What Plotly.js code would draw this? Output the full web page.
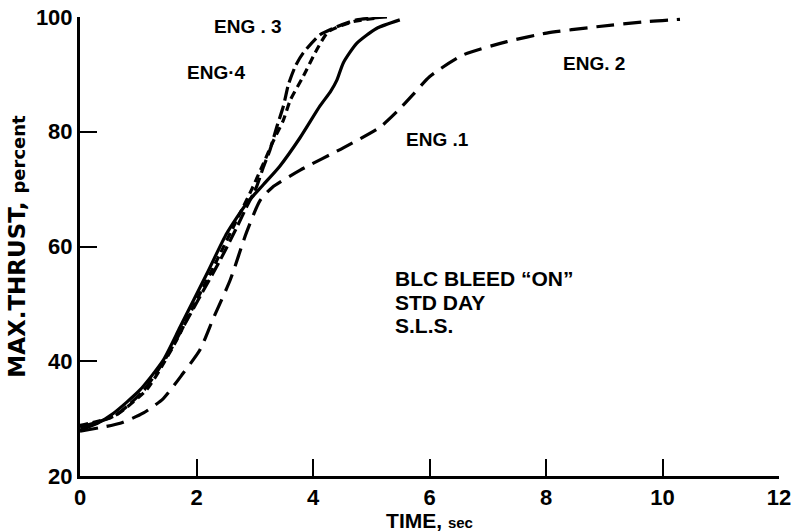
<!DOCTYPE html>
<html>
<head>
<meta charset="utf-8">
<script src="https://cdn.plot.ly/plotly-3.0.1.min.js"></script>
<style>html,body{margin:0;padding:0;background:#fff;}#chart{width:793px;height:532px;}</style>
</head>
<body>
<div id="chart"></div>
<script>
// ENG 1: solid curve (ends near 5.5 s)
const eng1X = [0, 0.3, 0.57, 1.03, 1.43, 1.72, 2.18, 2.52, 2.86, 3.15, 3.43, 3.78, 4.12, 4.3, 4.41, 4.52, 4.75, 5.09, 5.49];
const eng1Y = [28, 29.2, 30.9, 35, 40.2, 46, 55.3, 62.3, 67.5, 70.8, 74, 79, 84.5, 87, 89, 92, 95.4, 98, 99.5];
// ENG 2: long-dash slow curve
const eng2X = [0, 0.69, 1.09, 1.43, 1.77, 2.06, 2.29, 2.58, 2.86, 3.09, 3.3, 3.78, 4.52, 5.15, 5.44, 5.72, 6.0, 6.58, 7.33, 8.01, 8.87, 9.73, 10.3];
const eng2Y = [27.8, 29.2, 31, 33.5, 37.9, 42, 47.5, 54.2, 62.5, 68, 70.3, 73.3, 77.2, 80.8, 83.5, 86.5, 89.6, 93.4, 95.7, 97.2, 98.3, 99.2, 99.6];
// ENG 3: long-dash steep curve
const eng3X = [0, 0.6, 1.1, 1.5, 1.8, 2.1, 2.4, 2.7, 2.86, 3.03, 3.15, 3.26, 3.38, 3.49, 3.58, 3.7, 3.83, 4.12, 4.41, 4.75, 5.27];
const eng3Y = [28.5, 30.5, 35, 41, 46.5, 52, 57.5, 63.5, 66.9, 70.4, 73.9, 76.8, 80.9, 84.4, 88.3, 91.5, 93.7, 96.9, 98.3, 99.5, 100];
// ENG 4: short-dash steep curve
const eng4X = [0, 0.6, 1.14, 1.37, 1.66, 1.83, 2.06, 2.35, 2.69, 2.95, 3.15, 3.3, 3.49, 3.61, 3.83, 4.06, 4.26, 4.69, 5.1];
const eng4Y = [28.8, 30.5, 35, 38.5, 43.7, 47.2, 51.8, 57.6, 64.6, 70, 74.5, 78, 82, 85.5, 89.6, 94.2, 97.4, 99.2, 99.8];

const xTicks = [0, 2, 4, 6, 8, 10, 12];
const yTicks = [20, 40, 60, 80, 100];

const labelText = ["ENG . 3", "ENG\u00b74", "ENG .1", "ENG. 2"];
const labelX = [2.88, 2.35, 6.13, 8.82];
const labelY = [98.3, 90.4, 78.6, 91.9];
const noteLines = ["BLC BLEED \u201cON\u201d", "STD DAY", "S.L.S."];
const noteY = [54.5, 50.3, 46.3];

const FONT = "Liberation Sans, Arial, sans-serif";
const WIDE = "DejaVu Sans, sans-serif";

function line(x, y, dash) {
  return {x: x, y: y, type: 'scatter', mode: 'lines',
    line: {color: '#000', width: 3.2, dash: dash, shape: 'spline', smoothing: 0.6},
    showlegend: false, hoverinfo: 'skip'};
}

const traces = [
  line(eng1X, eng1Y, 'solid'),
  line(eng2X, eng2Y, '18px,9px'),
  line(eng3X, eng3Y, '14px,5px'),
  line(eng4X, eng4Y, '8px,5px')
];

const annotations = [];
for (let i = 0; i < labelText.length; i++) {
  annotations.push({x: labelX[i], y: labelY[i], xref: 'x', yref: 'y', text: '<b>' + labelText[i] + '</b>',
    showarrow: false, font: {family: FONT, size: 19, color: '#000'}, xanchor: 'center', yanchor: 'middle'});
}
for (let i = 0; i < noteLines.length; i++) {
  annotations.push({x: 5.38, y: noteY[i], xref: 'x', yref: 'y', text: '<b>' + noteLines[i] + '</b>',
    showarrow: false, font: {family: FONT, size: 21, color: '#000'}, xanchor: 'left', yanchor: 'middle'});
}

const layout = {
  width: 793, height: 532,
  margin: {l: 80, r: 14, t: 17, b: 56},
  paper_bgcolor: '#fff', plot_bgcolor: '#fff',
  font: {family: FONT, color: '#000'},
  xaxis: {
    range: [0, 12], tickvals: xTicks, ticktext: xTicks.map(String),
    ticks: 'inside', ticklen: 17, tickwidth: 2, tickcolor: '#000',
    showline: true, linewidth: 3, linecolor: '#000', showgrid: false, zeroline: false,
    tickfont: {family: FONT, size: 22, weight: 'bold', color: '#000'},
    title: {text: "<b>TIME, <span style='font-size:15px'>sec</span></b>", font: {family: FONT, size: 21, color: '#000'}, standoff: 4}
  },
  yaxis: {
    range: [20, 100], tickvals: yTicks, ticktext: yTicks.map(String),
    ticks: 'inside', ticklen: 17, tickwidth: 2, tickcolor: '#000',
    showline: true, linewidth: 3, linecolor: '#000', showgrid: false, zeroline: false,
    tickfont: {family: FONT, size: 22, weight: 'bold', color: '#000'},
    title: {text: "<b>MAX.THRUST, <span style='font-size:18px'>percent</span></b>", font: {family: WIDE, size: 23, color: '#000'}, standoff: 4}
  },
  annotations: annotations
};

Plotly.newPlot('chart', traces, layout, {staticPlot: true, displayModeBar: false});
</script>
</body>
</html>
